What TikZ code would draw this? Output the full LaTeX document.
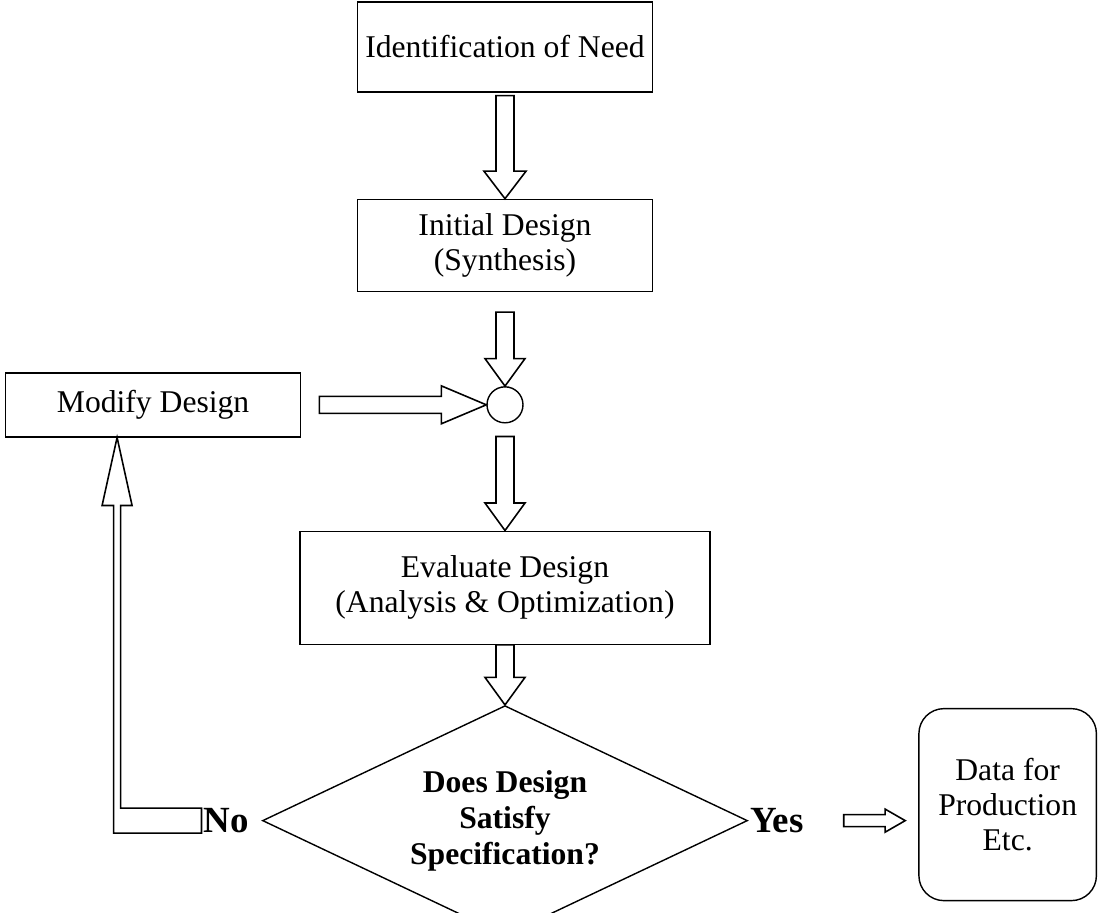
\documentclass[tikz,border=0pt]{standalone}
\usepackage{fontspec}
\setmainfont{Liberation Serif}
\usetikzlibrary{calc,positioning,shapes.geometric}

% hollow block arrow: shaft half width, head half width, head length, from, to
\newcommand{\hollowarrow}[5]{%
  \coordinate (hb) at ($(#5)!#3!(#4)$);
  \draw[hollow] ($(#4)!#1!90:(#5)$) -- ($(hb)!#1!90:(#5)$) -- ($(hb)!#2!90:(#5)$) -- (#5)
    -- ($(hb)!#2!-90:(#5)$) -- ($(hb)!#1!-90:(#5)$) -- ($(#4)!#1!-90:(#5)$) -- cycle;}

\begin{document}
\begin{tikzpicture}[
    every node/.style={font=\fontsize{18}{20}\selectfont},
    procbox/.style={draw, line width=0.8pt, align=center, inner sep=2pt},
    hollow/.style={draw, line width=0.9pt, line join=miter, fill=white},
    answer/.style={font=\fontsize{21}{24}\selectfont\bfseries, inner sep=1pt}]
  \useasboundingbox (-10.1,0.94) rectangle (11.98,-17.3);

  \node[procbox, minimum width=5.9cm, minimum height=1.8cm] (need) at (0,0) {Identification of Need};
  \node[procbox, minimum width=5.9cm, minimum height=1.84cm, below=2.12cm of need] (synth) {Initial Design\\(Synthesis)};
  \node[draw, circle, line width=0.8pt, minimum size=0.72cm, inner sep=0pt, below=1.88cm of synth] (junction) {};
  \node[procbox, minimum width=5.9cm, minimum height=1.28cm, left=3.7cm of junction] (modify) {Modify Design};
  \node[procbox, minimum width=8.2cm, minimum height=2.26cm, below=2.14cm of junction] (evaluate) {Evaluate Design\\(Analysis \& Optimization)};
  \node[draw, diamond, aspect=2.1, line width=0.8pt, minimum width=9.7cm, minimum height=4.6cm, inner sep=0pt, align=center,
        font=\fontsize{18}{20.5}\selectfont\bfseries, below=1.2cm of evaluate] (check) {Does Design\\Satisfy\\Specification?};
  \node[answer, left=0.22cm of check] (no) {No};
  \node[answer, right=0pt of check] (yes) {Yes};
  \node[procbox, rounded corners=0.5cm, minimum width=3.55cm, minimum height=3.84cm, right=3.4cm of check, yshift=0.32cm] (data) {Data for\\Production\\Etc.};

  % main column
  \coordinate (a1) at ([yshift=-0.06cm]need.south);
  \hollowarrow{0.18cm}{0.42cm}{0.55cm}{a1}{synth.north}
  \coordinate (a2) at ([yshift=-0.4cm]synth.south);
  \hollowarrow{0.18cm}{0.4cm}{0.55cm}{a2}{junction.north}
  \coordinate (a3) at ([xshift=0.36cm]modify.east);
  \hollowarrow{0.17cm}{0.38cm}{0.9cm}{a3}{junction.west}
  \coordinate (a4) at ([yshift=-0.26cm]junction.south);
  \hollowarrow{0.18cm}{0.4cm}{0.55cm}{a4}{evaluate.north}
  \hollowarrow{0.18cm}{0.4cm}{0.55cm}{evaluate.south}{check.north}

  % yes branch
  \coordinate (a5) at ([xshift=0.76cm]yes.east);
  \coordinate (a6) at ($(data.west|-yes.east)+(-0.26,0)$);
  \hollowarrow{0.12cm}{0.23cm}{0.4cm}{a5}{a6}

  % no branch back to modify
  \coordinate (fbtip) at ([xshift=-0.72cm]modify.south);
  \coordinate (fbbase) at ([yshift=-1.36cm]fbtip);
  \draw[hollow] ([yshift=-0.25cm]no.west) -- ($(fbtip|-no.west)+(-0.07,-0.25)$) -- ($(fbbase)+(-0.07,0)$)
    -- ($(fbbase)+(-0.3,0)$) -- (fbtip) -- ($(fbbase)+(0.3,0)$) -- ($(fbbase)+(0.07,0)$)
    -- ($(fbtip|-no.west)+(0.07,0.25)$) -- ([yshift=0.25cm]no.west) -- cycle;
\end{tikzpicture}
\end{document}
